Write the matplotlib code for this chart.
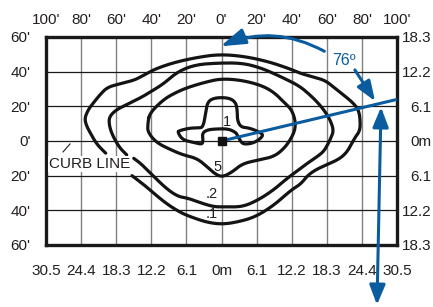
import matplotlib
matplotlib.use('Agg')
import matplotlib.pyplot as plt
import numpy as np
from matplotlib.patches import FancyArrowPatch

plt.rcParams['font.family'] = ['Liberation Sans', 'DejaVu Sans']

blue = '#0a5c9e'
ink = '#231f20'

# grid / tick labels
x_ticks = [-100, -80, -60, -40, -20, 0, 20, 40, 60, 80, 100]
top_labels = ["100'", "80'", "60'", "40'", "20'", "0'", "20'", "40'", "60'", "80'", "100'"]
bottom_labels = ['30.5', '24.4', '18.3', '12.2', '6.1', '0m', '6.1', '12.2', '18.3', '24.4', '30.5']
y_ticks = [60, 40, 20, 0, -20, -40, -60]
left_labels = ["60'", "40'", "20'", "0'", "20'", "40'", "60'"]
right_labels = ['18.3', '12.2', '6.1', '0m', '6.1', '12.2', '18.3']

# isolux lines (feet)
c01 = [(-66, -7), (-71, -2), (-75, 5), (-77, 9), (-78, 13), (-76, 18), (-73, 22), (-69, 27),
       (-65, 31), (-58, 33), (-50, 35), (-46, 37), (-39, 41), (-31, 44), (-24, 46), (-15, 48),
       (-2, 50), (12, 49), (26, 46), (38, 42), (45, 39), (52, 37), (59, 35), (64, 31), (69, 27),
       (75, 22), (78, 18), (79, 13), (79, 6), (76, 2), (73, -4), (70, -8), (66, -11), (59, -14),
       (53, -17), (49, -20), (45, -25), (40, -28), (30, -37), (19, -44), (8, -47), (0, -48),
       (-8, -47), (-17, -44), (-24, -41), (-33, -35), (-42, -27), (-51, -20)]
c02 = [(-54, -8), (-58, -4), (-62, 3), (-64, 9), (-64, 14), (-60, 18), (-54, 21), (-46, 25),
       (-41, 28), (-33, 33), (-25, 40), (-15, 44), (-2, 45), (12, 45), (23, 42), (34, 37),
       (44, 32), (50, 27), (55, 22), (59, 17), (62, 12), (64, 6), (62, 1), (59, -5), (56, -8),
       (50, -12), (45, -16), (38, -21), (30, -28), (21, -34), (12, -38), (2, -38), (-4, -38),
       (-11, -36), (-19, -33), (-25, -32), (-32, -27), (-41, -18), (-46, -13), (-50, -10)]
c05 = [(-41, 16), (-42, 10), (-42, 5), (-37, -1), (-29, -5), (-22, -8), (-14, -10), (-8, -15),
       (-5, -18), (0, -21), (6, -18), (12, -13), (21, -11), (30, -9), (36, -4), (40, 2),
       (42, 7), (42, 12), (40, 18), (36, 22), (30, 28), (23, 32), (12, 35), (0, 36), (-9, 34),
       (-19, 31), (-26, 28), (-33, 24)]
c1 = [(-25, 5), (-24, 6), (-18, 7.5), (-13, 7.5), (-10.5, 8), (-9, 16), (-8, 22.5), (-4, 25),
      (4, 25), (8, 22.5), (9, 18), (9, 12), (11, 8), (16, 7.5), (22, 5), (24, 3), (19, -1),
      (13, -2), (11, -0.5), (9, 3.5), (8, 5), (4, 7), (-2.5, 7), (-8, 6.5), (-11, 4.5),
      (-10.5, 0.5), (-11, -2), (-15, -1), (-22, 0.5)]
contour_labels = ['1', '5', '.2', '.1']
label_pos = [(3, 11), (-2.5, -15), (-5.5, -30.5), (-5.5, -42)]

# aiming
fixture = (0, 0)
beam_end = (100, 24)
tilt_label = '76º'


def chaikin(pts, closed=False, n=3):
    p = np.asarray(pts, dtype=float)
    for _ in range(n):
        a = p if closed else p[:-1]
        b = np.roll(p, -1, axis=0) if closed else p[1:]
        new = np.empty((2 * len(a), 2))
        new[0::2] = 0.75 * a + 0.25 * b
        new[1::2] = 0.25 * a + 0.75 * b
        if not closed:
            new = np.vstack([p[:1], new, p[-1:]])
        p = new
    if closed:
        p = np.vstack([p, p[:1]])
    return p


fig = plt.figure(figsize=(4.33, 3.07), dpi=100)
ax = fig.add_axes([46 / 433, 62 / 307, 351 / 433, 208 / 307])
ax.set_xlim(-100, 100)
ax.set_ylim(-60, 60)

for xv in x_ticks[1:-1]:
    ax.axvline(xv, color='#808080', lw=1.0, zorder=1)
for yv in y_ticks[1:-1]:
    ax.axhline(yv, color='#1a1a1a', lw=0.9, zorder=1)
for s in ax.spines.values():
    s.set_linewidth(2.4)
    s.set_color('#1a1a1a')

fs = 11
ax.set_xticks(x_ticks, top_labels)
ax.xaxis.tick_top()
ax.tick_params(axis='x', length=0, pad=7, labelsize=fs, labelcolor=ink)
ax.set_yticks(y_ticks, left_labels)
ax.tick_params(axis='y', length=0, pad=11, labelsize=fs, labelcolor=ink)

secx = ax.secondary_xaxis('bottom')
secx.set_xticks(x_ticks, bottom_labels)
secx.tick_params(length=0, pad=14, labelsize=fs, labelcolor=ink)
secx.spines['bottom'].set_visible(False)

secy = ax.secondary_yaxis('right')
secy.set_yticks(y_ticks, right_labels)
secy.tick_params(length=0, pad=25, labelsize=fs, labelcolor=ink)
secy.spines['right'].set_visible(False)
for t in secy.get_yticklabels():
    t.set_horizontalalignment('right')

for pts, closed in [(c01, False), (c02, False), (c05, True), (c1, True)]:
    sm = chaikin(pts, closed)
    ax.plot(sm[:, 0], sm[:, 1], color='#141414', lw=2.3, solid_capstyle='round', zorder=3)

for lab, (lx, ly) in zip(contour_labels, label_pos):
    ax.text(lx, ly, lab, fontsize=10.5, color=ink, ha='center', va='center', zorder=4)

ax.text(-75, -13.3, 'CURB LINE', fontsize=11, color=ink, ha='center', va='center', zorder=5,
        bbox=dict(facecolor='white', edgecolor='none', pad=0.6))
ax.plot([-90.3, -86.3], [-6.3, -1.7], color=ink, lw=0.8, zorder=5)

# beam line + fixture
ax.plot([fixture[0], beam_end[0]], [fixture[1], beam_end[1]], color=blue, lw=2.2, zorder=6)
ax.plot(*fixture, marker='s', ms=6, color='#111111', zorder=7)

# tilt arc
arc = FancyArrowPatch((60, 51), (-2, 54), connectionstyle='arc3,rad=0.25',
                      arrowstyle='-|>,head_length=15,head_width=4.8', mutation_scale=1,
                      color=blue, lw=2.2, zorder=6, clip_on=False)
ax.add_patch(arc)
ax.text(69.5, 46.5, tilt_label, fontsize=11.5, color=blue, ha='center', va='center', zorder=6)
ptr = FancyArrowPatch((76, 41), (87.5, 23), arrowstyle='-|>,head_length=12,head_width=4.5',
                      mutation_scale=1, color=blue, lw=2.2, zorder=6, clip_on=False,
                      shrinkA=0, shrinkB=0)
ax.add_patch(ptr)
vert = FancyArrowPatch((88.6, -94.5), (90.9, 19.5), arrowstyle='<|-|>,head_length=12,head_width=4.8',
                       mutation_scale=1, color=blue, lw=2.2, zorder=6, clip_on=False,
                       shrinkA=0, shrinkB=0)
ax.add_patch(vert)

fig.savefig('out.png', dpi=100)
